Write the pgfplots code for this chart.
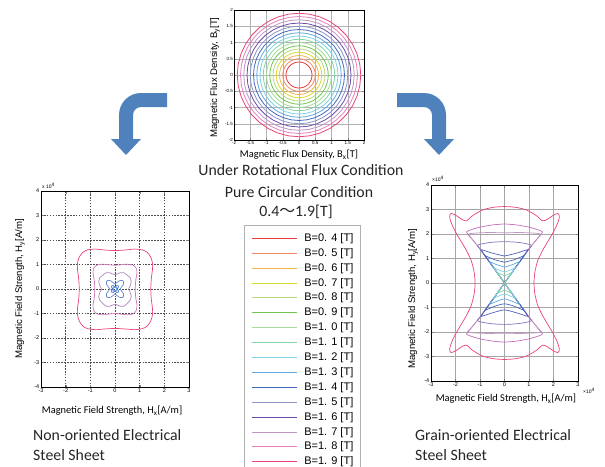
\documentclass[border=0pt]{standalone}
\usepackage{fontspec}
\setmainfont{Carlito}
\newfontfamily\arialf{Liberation Sans}
\newfontfamily\cjk{Noto Sans CJK JP}
\usepackage{pgfplots}
\pgfplotsset{compat=1.18}
\usepackage{pgfplotstable}

\definecolor{arrowblue}{HTML}{4F81BD}
\definecolor{c04}{HTML}{E83C3C}
\definecolor{c05}{HTML}{F08A6A}
\definecolor{c06}{HTML}{F2B450}
\definecolor{c07}{HTML}{DADA30}
\definecolor{c08}{HTML}{B8D880}
\definecolor{c09}{HTML}{70C850}
\definecolor{c10}{HTML}{A8DC98}
\definecolor{c11}{HTML}{80D4A8}
\definecolor{c12}{HTML}{80D4E8}
\definecolor{c13}{HTML}{60A8E0}
\definecolor{c14}{HTML}{4468C0}
\definecolor{c15}{HTML}{8C96C8}
\definecolor{c16}{HTML}{6A4CAC}
\definecolor{c17}{HTML}{C096C4}
\definecolor{c18}{HTML}{E67EC0}
\definecolor{c19}{HTML}{E84474}

\pgfplotstableread{
c s
1 0
0.9848 0.1736
0.9397 0.3420
0.8660 0.5
0.7660 0.6428
0.6428 0.7660
0.5 0.8660
0.3420 0.9397
0.1736 0.9848
0 1
-0.1736 0.9848
-0.3420 0.9397
-0.5 0.8660
-0.6428 0.7660
-0.7660 0.6428
-0.8660 0.5
-0.9397 0.3420
-0.9848 0.1736
-1 0
-0.9848 -0.1736
-0.9397 -0.3420
-0.8660 -0.5
-0.7660 -0.6428
-0.6428 -0.7660
-0.5 -0.8660
-0.3420 -0.9397
-0.1736 -0.9848
0 -1
0.1736 -0.9848
0.3420 -0.9397
0.5 -0.8660
0.6428 -0.7660
0.7660 -0.6428
0.8660 -0.5
0.9397 -0.3420
0.9848 -0.1736
1 0
}\unitcircle

\begin{document}
\begin{tikzpicture}
\useasboundingbox (0,0) rectangle (605pt,-466pt);
\clip (0,0) rectangle (605pt,-466pt);
\fill[white] (0,0) rectangle (605pt,-466pt);

\begin{scope}[x=1pt,y=-1pt]
% left arrow
\fill[arrowblue] (167,93) -- (141,93) .. controls (128.8,93) and (119,102.8) .. (119,115)
  -- (119,139) -- (111,139) -- (126,155) -- (141,139) -- (133,139) -- (133,115)
  .. controls (133,110.6) and (136.6,107) .. (141,107) -- (167,107) -- cycle;
% right arrow
\fill[arrowblue] (397,93) -- (424,93) .. controls (436.2,93) and (446,102.8) .. (446,115)
  -- (446,139) -- (454,139) -- (439,155) -- (424,139) -- (432,139) -- (432,115)
  .. controls (432,110.6) and (428.4,107) .. (424,107) -- (397,107) -- cycle;
\begin{scope}[every node/.style={text=black!85, font=\fontsize{15.8}{18}\selectfont, inner sep=0pt}]
\node at (301,170) {Under Rotational Flux Condition};
\node at (299,192) {Pure Circular Condition};
\node at (296,212) {0.4{\cjk ～}1.9[T]};
\node[anchor=west] at (33,435) {Non-oriented Electrical};
\node[anchor=west] at (33,455) {Steel Sheet};
\node[anchor=west] at (415,435) {Grain-oriented Electrical};
\node[anchor=west] at (415,455) {Steel Sheet};
\end{scope}
\end{scope}

% ---------------- top axis: B locus -----------------
\begin{axis}[at={(234pt,-140pt)}, anchor=south west, scale only axis,
  width=130pt, height=130pt,
  xmin=-2, xmax=2, ymin=-2, ymax=2,
  xtick={-2,-1.5,...,2}, ytick={-2,-1.5,...,2},
  grid=major, major grid style={gray!60, line width=0.5pt},
  tick align=inside, major tick length=2pt,
  /pgf/number format/assume math mode=true,
  tick label style={font=\arialf\fontsize{4.5}{5}\selectfont, inner sep=1pt},
  xlabel={Magnetic Flux Density, B\textsubscript{x}[T]},
  ylabel={Magnetic Flux Density, B\textsubscript{y}[T]},
  xlabel style={at={(axis description cs:0.5,-0.115)}, anchor=center, font=\fontsize{10.4}{12}\selectfont, inner sep=0pt},
  ylabel style={at={(axis description cs:-0.146,0.48)}, anchor=center, font=\arialf\fontsize{9.6}{11}\selectfont, inner sep=0pt},
  legend style={at={(0.0769,-0.6538)}, anchor=north west, draw=gray!60, line width=0.6pt,
    fill=white, inner xsep=7pt, inner ysep=7pt,
    font=\arialf\fontsize{11}{11}\selectfont,
    nodes={inner sep=0pt, text height=9pt, text depth=3pt},
    row sep=2.9pt, /tikz/every odd column/.style={column sep=7pt}},
  legend cell align=left,
  legend image code/.code={\draw[#1, line width=1pt] (0pt,0pt) -- (45pt,0pt);},
  every axis plot/.append style={line width=0.8pt}
]
\addplot[c04] table[x expr=0.4*\thisrow{c}, y expr=0.4*\thisrow{s}] {\unitcircle};
\addlegendentry{B=0. 4 [T]}
\addplot[c05] table[x expr=0.5*\thisrow{c}, y expr=0.5*\thisrow{s}] {\unitcircle};
\addlegendentry{B=0. 5 [T]}
\addplot[c06] table[x expr=0.6*\thisrow{c}, y expr=0.6*\thisrow{s}] {\unitcircle};
\addlegendentry{B=0. 6 [T]}
\addplot[c07] table[x expr=0.7*\thisrow{c}, y expr=0.7*\thisrow{s}] {\unitcircle};
\addlegendentry{B=0. 7 [T]}
\addplot[c08] table[x expr=0.8*\thisrow{c}, y expr=0.8*\thisrow{s}] {\unitcircle};
\addlegendentry{B=0. 8 [T]}
\addplot[c09] table[x expr=0.9*\thisrow{c}, y expr=0.9*\thisrow{s}] {\unitcircle};
\addlegendentry{B=0. 9 [T]}
\addplot[c10] table[x expr=1.0*\thisrow{c}, y expr=1.0*\thisrow{s}] {\unitcircle};
\addlegendentry{B=1. 0 [T]}
\addplot[c11] table[x expr=1.1*\thisrow{c}, y expr=1.1*\thisrow{s}] {\unitcircle};
\addlegendentry{B=1. 1 [T]}
\addplot[c12] table[x expr=1.2*\thisrow{c}, y expr=1.2*\thisrow{s}] {\unitcircle};
\addlegendentry{B=1. 2 [T]}
\addplot[c13] table[x expr=1.3*\thisrow{c}, y expr=1.3*\thisrow{s}] {\unitcircle};
\addlegendentry{B=1. 3 [T]}
\addplot[c14] table[x expr=1.4*\thisrow{c}, y expr=1.4*\thisrow{s}] {\unitcircle};
\addlegendentry{B=1. 4 [T]}
\addplot[c15] table[x expr=1.5*\thisrow{c}, y expr=1.5*\thisrow{s}] {\unitcircle};
\addlegendentry{B=1. 5 [T]}
\addplot[c16] table[x expr=1.6*\thisrow{c}, y expr=1.6*\thisrow{s}] {\unitcircle};
\addlegendentry{B=1. 6 [T]}
\addplot[c17] table[x expr=1.7*\thisrow{c}, y expr=1.7*\thisrow{s}] {\unitcircle};
\addlegendentry{B=1. 7 [T]}
\addplot[c18] table[x expr=1.8*\thisrow{c}, y expr=1.8*\thisrow{s}] {\unitcircle};
\addlegendentry{B=1. 8 [T]}
\addplot[c19] table[x expr=1.9*\thisrow{c}, y expr=1.9*\thisrow{s}] {\unitcircle};
\addlegendentry{B=1. 9 [T]}
\end{axis}

% ---------------- left axis: non-oriented -----------------
\begin{axis}[at={(41pt,-387pt)}, anchor=south west, scale only axis,
  width=148pt, height=196pt,
  xmin=-3, xmax=3, ymin=-4, ymax=4,
  xtick={-3,...,3}, ytick={-4,...,4},
  grid=major, major grid style={black!70, dash pattern=on 1.6pt off 1.3pt, line width=0.55pt},
  tick align=inside, major tick length=2.5pt,
  /pgf/number format/assume math mode=true,
  tick label style={font=\arialf\fontsize{5.5}{6}\selectfont, inner sep=1.5pt},
  xlabel={Magnetic Field Strength, H\textsubscript{x}[A/m]},
  ylabel={Magnetic Field Strength, H\textsubscript{y}[A/m]},
  xlabel style={at={(axis description cs:0.48,-0.122)}, anchor=center, font=\fontsize{10.4}{12}\selectfont, inner sep=0pt},
  ylabel style={at={(axis description cs:-0.142,0.5)}, anchor=center, font=\arialf\fontsize{9.6}{11}\selectfont, inner sep=0pt},
  every axis plot/.append style={line width=0.7pt, smooth}
]
\addplot[c19] coordinates {(1.45,0) (1.47,0.4) (1.52,0.8) (1.52,1.05) (1.45,1.3) (1.3,1.5) (1.1,1.6) (0.8,1.63) (0.4,1.59) (0,1.57)
 (-0.4,1.59) (-0.8,1.63) (-1.1,1.6) (-1.3,1.5) (-1.45,1.3) (-1.52,1.05) (-1.52,0.8) (-1.47,0.4) (-1.45,0)
 (-1.47,-0.4) (-1.52,-0.8) (-1.52,-1.05) (-1.45,-1.3) (-1.3,-1.52) (-1.1,-1.62) (-0.8,-1.66) (-0.4,-1.63) (0,-1.61)
 (0.4,-1.63) (0.8,-1.66) (1.1,-1.62) (1.3,-1.52) (1.45,-1.3) (1.52,-1.05) (1.52,-0.8) (1.47,-0.4) (1.45,0)};
\addplot[c18!85!c16] coordinates {(0.82,0) (0.84,0.35) (0.89,0.65) (0.86,0.85) (0.72,0.98) (0.45,1.01) (0,0.97) (-0.45,1.01) (-0.72,0.98) (-0.86,0.85) (-0.89,0.65) (-0.84,0.35) (-0.82,0) (-0.84,-0.35) (-0.89,-0.65) (-0.86,-0.88) (-0.72,-1.02) (-0.45,-1.05) (0,-1.0) (0.45,-1.05) (0.72,-1.02) (0.86,-0.88) (0.89,-0.65) (0.84,-0.35) (0.82,0)};
\addplot[c17!80!c16] coordinates {(0.55,0) (0.62,0.15) (0.66,0.3) (0.62,0.45) (0.5,0.56) (0.36,0.66) (0.2,0.66) (0,0.58) (-0.2,0.66) (-0.36,0.66) (-0.5,0.56) (-0.62,0.45) (-0.66,0.3) (-0.62,0.15) (-0.55,0) (-0.62,-0.15) (-0.66,-0.3) (-0.62,-0.45) (-0.5,-0.58) (-0.36,-0.7) (-0.2,-0.7) (0,-0.62) (0.2,-0.7) (0.36,-0.7) (0.5,-0.58) (0.62,-0.45) (0.66,-0.3) (0.62,-0.15) (0.55,0)};
\addplot[c14!80!white] coordinates {(0.2,0) (0.26,0.07) (0.34,0.18) (0.35,0.3) (0.3,0.35) (0.18,0.34) (0.07,0.26) (0,0.2) (-0.07,0.26) (-0.18,0.34) (-0.3,0.35) (-0.35,0.3) (-0.34,0.18) (-0.26,0.07) (-0.2,0) (-0.26,-0.07) (-0.34,-0.18) (-0.35,-0.3) (-0.3,-0.35) (-0.18,-0.34) (-0.07,-0.26) (0,-0.2) (0.07,-0.26) (0.18,-0.34) (0.3,-0.35) (0.35,-0.3) (0.34,-0.18) (0.26,-0.07) (0.2,0)};
\addplot[c14] coordinates {(0.08,0) (0.11,0.03) (0.14,0.08) (0.13,0.13) (0.08,0.14) (0.03,0.11) (0,0.08) (-0.03,0.11) (-0.08,0.14) (-0.13,0.13) (-0.14,0.08) (-0.11,0.03) (-0.08,0) (-0.11,-0.03) (-0.14,-0.08) (-0.13,-0.13) (-0.08,-0.14) (-0.03,-0.11) (0,-0.08) (0.03,-0.11) (0.08,-0.14) (0.13,-0.13) (0.14,-0.08) (0.11,-0.03) (0.08,0)};
\addplot[c13] coordinates {(0.05,0) (0.05,0.05) (0,0.05) (-0.05,0.05) (-0.05,0) (-0.05,-0.05) (0,-0.05) (0.05,-0.05) (0.05,0)};
\end{axis}

% ---------------- right axis: grain-oriented -----------------
\begin{axis}[at={(431pt,-381pt)}, anchor=south west, scale only axis,
  width=147pt, height=196pt,
  xmin=-3, xmax=3, ymin=-4, ymax=4,
  xtick={-3,...,3}, ytick={-4,...,4},
  grid=major, major grid style={gray!70, line width=0.6pt},
  tick align=inside, major tick length=2.5pt,
  /pgf/number format/assume math mode=true,
  tick label style={font=\arialf\fontsize{5.5}{6}\selectfont, inner sep=1.5pt},
  xlabel={Magnetic Field Strength, H\textsubscript{x}[A/m]},
  ylabel={Magnetic Field Strength, H\textsubscript{y}[A/m]},
  xlabel style={at={(axis description cs:0.51,-0.092)}, anchor=center, font=\fontsize{10.4}{12}\selectfont, inner sep=0pt},
  ylabel style={at={(axis description cs:-0.122,0.42)}, anchor=center, font=\arialf\fontsize{9.6}{11}\selectfont, inner sep=0pt},
  every axis plot/.append style={line width=0.7pt, smooth, tension=0.45}
]
\addplot[c19] coordinates {(1.20,0) (1.24,0.45) (1.36,0.92) (1.55,1.32) (1.76,1.68) (1.98,2.05) (2.15,2.4) (2.24,2.7) (2.18,2.84) (1.98,2.76) (1.75,2.6) (1.55,2.54) (1.3,2.75) (0.9,2.98) (0.45,3.09) (0,3.12)
 (-0.45,3.09) (-0.9,2.98) (-1.3,2.75) (-1.55,2.54) (-1.75,2.6) (-1.98,2.76) (-2.18,2.84) (-2.24,2.7) (-2.15,2.4) (-1.98,2.05) (-1.76,1.68) (-1.55,1.32) (-1.36,0.92) (-1.24,0.45) (-1.20,0)
 (-1.24,-0.45) (-1.36,-0.92) (-1.55,-1.32) (-1.76,-1.68) (-1.98,-2.05) (-2.15,-2.4) (-2.24,-2.7) (-2.18,-2.84) (-1.98,-2.76) (-1.75,-2.6) (-1.55,-2.54) (-1.3,-2.75) (-0.9,-2.98) (-0.45,-3.09) (0,-3.12)
 (0.45,-3.09) (0.9,-2.98) (1.3,-2.75) (1.55,-2.54) (1.75,-2.6) (1.98,-2.76) (2.18,-2.84) (2.24,-2.7) (2.15,-2.4) (1.98,-2.05) (1.76,-1.68) (1.55,-1.32) (1.36,-0.92) (1.24,-0.45) (1.20,0)};
\addplot[c18!70!c16] coordinates {(0,2.41) (0.5,2.37) (1.0,2.28) (1.4,2.16) (1.55,2.08) (1.45,1.95) (1.1,1.52) (0.55,0.77) (0,0) (-0.55,-0.77) (-1.1,-1.52) (-1.45,-1.95) (-1.55,-2.08) (-1.4,-2.16) (-1.0,-2.28) (-0.5,-2.37) (0,-2.41) (0.5,-2.37) (1.0,-2.28) (1.4,-2.16) (1.55,-2.08) (1.45,-1.95) (1.1,-1.52) (0.55,-0.77) (0,0) (-0.55,0.77) (-1.1,1.52) (-1.45,1.95) (-1.55,2.08) (-1.4,2.16) (-1.0,2.28) (-0.5,2.37) (0,2.41)};
\addplot[c17] coordinates {(0,2.05) (0.7,2.06) (1.3,2.03) (1.5,1.98) (1.38,1.85) (1.05,1.45) (0.52,0.73) (0,0) (-0.52,-0.73) (-1.05,-1.45) (-1.38,-1.85) (-1.5,-1.98) (-1.3,-2.03) (-0.7,-2.06) (0,-2.05) (0.7,-2.06) (1.3,-2.03) (1.5,-1.98) (1.38,-1.85) (1.05,-1.45) (0.52,-0.73) (0,0) (-0.52,0.73) (-1.05,1.45) (-1.38,1.85) (-1.5,1.98) (-1.3,2.03) (-0.7,2.06) (0,2.05)};
\addplot[c16!80!white] coordinates {(0,1.69) (0.55,1.66) (1.0,1.58) (1.1,1.52) (1.0,1.4) (0.5,0.7) (0,0) (-0.5,-0.7) (-1.0,-1.4) (-1.1,-1.52) (-1.0,-1.58) (-0.55,-1.66) (0,-1.69) (0.55,-1.66) (1.0,-1.58) (1.1,-1.52) (1.0,-1.4) (0.5,-0.7) (0,0) (-0.5,0.7) (-1.0,1.4) (-1.1,1.52) (-1.0,1.58) (-0.55,1.66) (0,1.69)};
\addplot[c14!70!c16] coordinates {(0,1.1) (0.5,1.22) (0.9,1.35) (0.92,1.3) (0.46,0.65) (0,0) (-0.46,-0.65) (-0.92,-1.3) (-0.9,-1.35) (-0.5,-1.22) (0,-1.1) (0.5,-1.22) (0.9,-1.35) (0.92,-1.3) (0.46,-0.65) (0,0) (-0.46,0.65) (-0.92,1.3) (-0.9,1.35) (-0.5,1.22) (0,1.1)};
\addplot[c14] coordinates {(0,0.85) (0.4,0.95) (0.76,1.1) (0.78,1.08) (0.39,0.55) (0,0) (-0.39,-0.55) (-0.78,-1.08) (-0.76,-1.1) (-0.4,-0.95) (0,-0.85) (0.4,-0.95) (0.76,-1.1) (0.78,-1.08) (0.39,-0.55) (0,0) (-0.39,0.55) (-0.78,1.08) (-0.76,1.1) (-0.4,0.95) (0,0.85)};
\addplot[c13] coordinates {(0,0.65) (0.3,0.74) (0.58,0.86) (0.6,0.84) (0.3,0.42) (0,0) (-0.3,-0.42) (-0.6,-0.84) (-0.58,-0.86) (-0.3,-0.74) (0,-0.65) (0.3,-0.74) (0.58,-0.86) (0.6,-0.84) (0.3,-0.42) (0,0) (-0.3,0.42) (-0.6,0.84) (-0.58,0.86) (-0.3,0.74) (0,0.65)};
\addplot[c12] coordinates {(0,0.45) (0.21,0.52) (0.41,0.61) (0.42,0.59) (0.21,0.3) (0,0) (-0.21,-0.3) (-0.42,-0.59) (-0.41,-0.61) (-0.21,-0.52) (0,-0.45) (0.21,-0.52) (0.41,-0.61) (0.42,-0.59) (0.21,-0.3) (0,0) (-0.21,0.3) (-0.42,0.59) (-0.41,0.61) (-0.21,0.52) (0,0.45)};
\addplot[c11] coordinates {(0,0.3) (0.14,0.35) (0.27,0.41) (0.28,0.4) (0.14,0.2) (0,0) (-0.14,-0.2) (-0.28,-0.4) (-0.27,-0.41) (-0.14,-0.35) (0,-0.3) (0.14,-0.35) (0.27,-0.41) (0.28,-0.4) (0.14,-0.2) (0,0) (-0.14,0.2) (-0.28,0.4) (-0.27,0.41) (-0.14,0.35) (0,0.3)};
\end{axis}

\begin{scope}[x=1pt,y=-1pt, every node/.style={inner sep=0pt, font=\arialf\fontsize{5}{6}\selectfont}]
\node[anchor=west] at (42,186) {x 10\textsuperscript{4}};
\node[anchor=west] at (432,179) {×10\textsuperscript{4}};
\node[anchor=west] at (583,391) {×10\textsuperscript{4}};
\end{scope}
\end{tikzpicture}
\end{document}
